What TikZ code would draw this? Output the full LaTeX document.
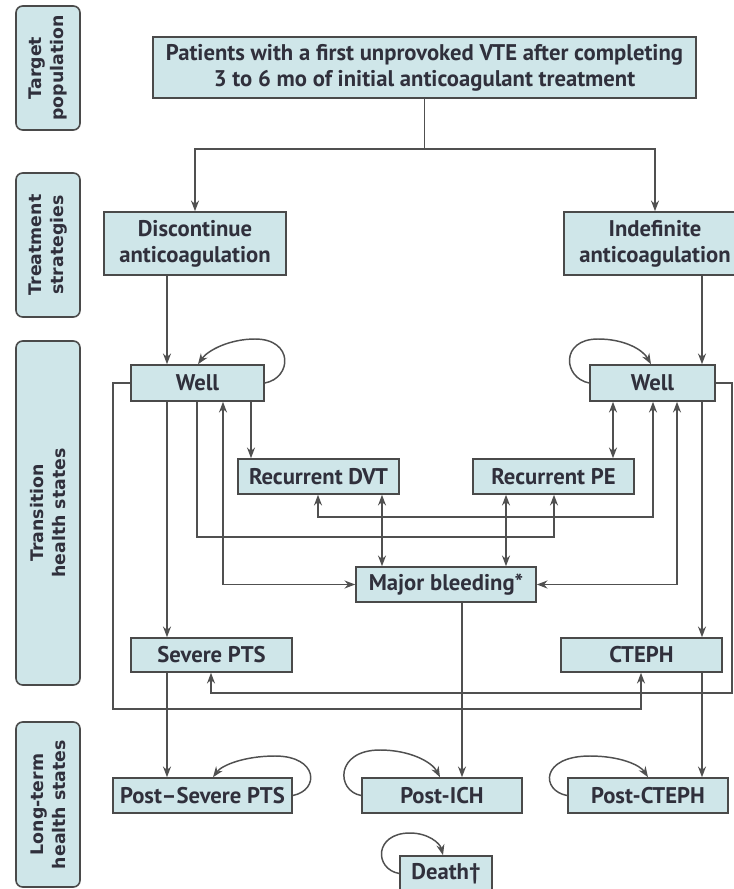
\documentclass[tikz,border=0pt]{standalone}
\usepackage{fontspec}
\setmainfont{PT Sans}
\newfontfamily\labfont{DejaVu Sans}
\usetikzlibrary{arrows.meta}
\definecolor{boxfill}{HTML}{CFE6E9}
\definecolor{boxdraw}{HTML}{4A4A4A}
\definecolor{txt}{HTML}{30303C}
\definecolor{ln}{HTML}{505050}
\begin{document}
\begin{tikzpicture}[x=0.75pt,y=-0.75pt,
  state/.style={draw=boxdraw, fill=boxfill, line width=1.2pt, inner sep=0pt,
    text=txt, font=\fontsize{17}{19.5}\selectfont\bfseries, align=center},
  lab/.style={draw=boxdraw, fill=boxfill, line width=1.2pt, inner sep=0pt,
    rounded corners=5pt, rotate=90, text=txt,
    font=\labfont\fontsize{13}{16.5}\selectfont\bfseries, align=center,
    minimum height=64*0.75pt},
  conn/.style={draw=ln, line width=1.1pt},
  arr/.style={conn, -{Stealth[length=8pt,width=6pt]}},
  arrb/.style={conn, {Stealth[length=8pt,width=6pt]}-{Stealth[length=8pt,width=6pt]}}
]
\path[use as bounding box, fill=white] (0,0) rectangle (733,889);

% side labels
\node[lab, minimum width=124*0.75pt] (labA) at (48,68) {Target\\population};
\node[lab, minimum width=144*0.75pt] (labB) at (48,245) {Treatment\\strategies};
\node[lab, minimum width=344*0.75pt] (labC) at (48,513) {Transition\\health states};
\node[lab, minimum width=165*0.75pt] (labD) at (48,804.5) {Long-term\\health states};

% nodes
\node[state, minimum width=543*0.75pt, minimum height=61*0.75pt] (top) at (424.5,67.5)
  {Patients with a first unprovoked VTE after completing\\3 to 6 mo of initial anticoagulant treatment};
\node[state, minimum width=182*0.75pt, minimum height=63*0.75pt] (disc) at (195,243.5)
  {Discontinue\\anticoagulation};
\node[state, minimum width=182*0.75pt, minimum height=63*0.75pt] (indef) at (655,243.5)
  {Indefinite\\anticoagulation};
\node[state, minimum width=133*0.75pt, minimum height=36*0.75pt] (wellL) at (197.5,383) {Well};
\node[state, minimum width=125*0.75pt, minimum height=36*0.75pt] (wellR) at (652.5,383) {Well};
\node[state, minimum width=161*0.75pt, minimum height=35*0.75pt] (dvt) at (318.5,476.5) {Recurrent DVT};
\node[state, minimum width=161*0.75pt, minimum height=35*0.75pt] (pe) at (553.5,476.5) {Recurrent PE};
\node[state, minimum width=180*0.75pt, minimum height=35*0.75pt] (mb) at (446,584.5) {Major bleeding*};
\node[state, minimum width=161*0.75pt, minimum height=34*0.75pt] (spts) at (211.5,655) {Severe PTS};
\node[state, minimum width=161*0.75pt, minimum height=34*0.75pt] (cteph) at (641.5,655) {CTEPH};
\node[state, minimum width=179*0.75pt, minimum height=35*0.75pt] (pspts) at (202.5,795.5) {Post--Severe PTS};
\node[state, minimum width=160*0.75pt, minimum height=35*0.75pt] (pich) at (442,795.5) {Post-ICH};
\node[state, minimum width=160*0.75pt, minimum height=35*0.75pt] (pcteph) at (648,795.5) {Post-CTEPH};
\node[state, minimum width=92*0.75pt, minimum height=35*0.75pt] (death) at (446,873.5) {Death\textdagger};

% top split
\coordinate (split) at (424.5,149);
\draw[conn] (top.south) -- (split);
\draw[arr] (split) -| (disc.north);
\draw[arr] (split) -| (indef.north);

% main verticals
\draw[arr] (167,0 |- disc.south) -- (167,0 |- wellL.north);
\draw[arr] (167,0 |- wellL.south) -- (167,0 |- spts.north);
\draw[arr] (167,0 |- spts.south) -- (167,0 |- pspts.north);
\draw[arr] (702,0 |- indef.south) -- (702,0 |- wellR.north);
\draw[arr] (702,0 |- wellR.south) -- (702,0 |- cteph.north);
\draw[arr] (702,0 |- cteph.south) -- (702,0 |- pcteph.north);
\draw[arr] (462,0 |- mb.south) -- (462,0 |- pich.north);

% long routes
\draw[arr] (wellL.west) -| (113,709) -| (641,0 |- cteph.south);
\draw[arr] (wellR.east) -| (732,693) -| (211,0 |- spts.south);
\draw[arr] (197,0 |- wellL.south) -- (197,537) -| (554,0 |- pe.south);
\draw[arrb] (223,0 |- wellL.south) |- (mb.west);
\draw[arr] (251,0 |- wellL.south) -- (251,0 |- dvt.north);
\draw[arrb] (318,0 |- dvt.south) -- (318,517) -| (653,0 |- wellR.south);
\draw[arrb] (382,0 |- dvt.south) -- (382,0 |- mb.north);
\draw[arrb] (506,0 |- pe.south) -- (506,0 |- mb.north);
\draw[arrb] (613,0 |- wellR.south) -- (613,0 |- pe.north);
\draw[arrb] (677,0 |- wellR.south) |- (mb.east);

% self loops
\draw[arr] (wellL.east) .. controls (292,378) and (294,339) .. (255,339)
  .. controls (230,339) and (208,350) .. (198,0 |- wellL.north);
\draw[arr] (wellR.west) .. controls (563,378) and (560,339) .. (598,339)
  .. controls (625,339) and (643,350) .. (651,0 |- wellR.north);
\draw[arr] (pspts.east) .. controls (320,790) and (318,756) .. (275,756)
  .. controls (245,756) and (222,765) .. (213,0 |- pspts.north);
\draw[arr] (pich.west) .. controls (336,791) and (335,750) .. (380,750)
  .. controls (410,750) and (432,762) .. (440,0 |- pich.north);
\draw[arr] (pcteph.west) .. controls (541,791) and (540,756) .. (590,756)
  .. controls (620,756) and (640,765) .. (648,0 |- pcteph.north);
\draw[arr] (death.west) .. controls (374,869) and (374,833) .. (410,833)
  .. controls (428,833) and (440,843) .. (443,0 |- death.north);
\end{tikzpicture}
\end{document}
